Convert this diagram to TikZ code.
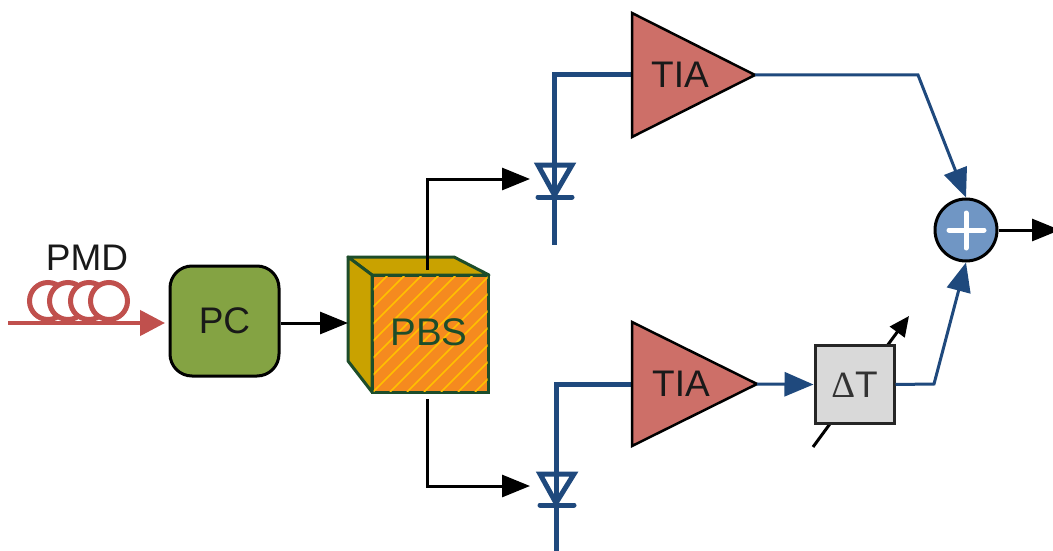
\documentclass[tikz,border=0pt]{standalone}
\usepackage{fontspec}
\setmainfont{Liberation Sans}
\usetikzlibrary{arrows.meta,calc}
\definecolor{bluel}{HTML}{1F497D}
\definecolor{redl}{HTML}{C0504D}
\definecolor{tiaf}{HTML}{CD6F68}
\definecolor{pcf}{HTML}{84A343}
\definecolor{cubeg}{HTML}{1D4D2A}
\definecolor{gold}{HTML}{C9A200}
\definecolor{orangef}{HTML}{F58A1F}
\definecolor{hatchy}{HTML}{FFC000}
\definecolor{sumf}{HTML}{7096C4}
\tikzset{
  x=1pt,y=-1pt,
  lab/.style={font=\fontsize{37}{37}\selectfont,inner sep=0pt,text=black!90},
  blk/.style={draw=black,line width=3pt,-{Triangle[length=28pt,width=22pt]}},
  blu/.style={draw=bluel,line width=3pt},
  bluar/.style={blu,-{Triangle[length=29pt,width=24pt]}},
  bluthick/.style={draw=bluel,line width=5pt},
  diode/.style={draw=bluel,line width=5pt,line cap=round,line join=miter},
  tia/.style={draw=black,line width=2.5pt,fill=tiaf,line join=miter},
  coil/.style={draw=redl,line width=5pt,fill=white},
}
\begin{document}
\begin{tikzpicture}
\useasboundingbox (0,0) rectangle (1053,551);
% anchors
\coordinate (fibreA) at (8,323);
\coordinate (fibreB) at (165,323);
\coordinate (topSplit) at (427,270);
\coordinate (botSplit) at (427,399);
\coordinate (pdTopIn) at (530,179);
\coordinate (pdBotIn) at (530,486);
\coordinate (tiaTopIn) at (632,75);
\coordinate (tiaTopOut) at (755,75);
\coordinate (tiaBotIn) at (632,384);
\coordinate (tiaBotOut) at (757,384);
\coordinate (cubeIn) at (348,323);
\coordinate (outEnd) at (1060,230);
\coordinate (tuneA) at (813,447);
\coordinate (tuneB) at (909,316);
% coil
\foreach \cx in {48,68,89,109}{\draw[coil] (\cx,301) circle (18.5);}
\draw[draw=redl,line width=4.5pt,-{Triangle[length=25pt,width=25pt]}] (fibreA) -- (fibreB);
\node[lab] (pmd) at (87,258) {PMD};
% PC
\node[draw=black,line width=3pt,fill=pcf,rounded corners=22pt,minimum width=109pt,minimum height=110pt,inner sep=0pt,font=\fontsize{37}{37}\selectfont,text=black!90] (pc) at (224.5,321) {PC};
% cube
\path[fill=gold,draw=cubeg,line width=3pt,line join=round] (372,275) -- (348,257) -- (454,257) -- (489,275) -- cycle;
\path[fill=gold,draw=cubeg,line width=3pt,line join=round] (372,275) -- (348,257) -- (348,361) -- (372,392) -- cycle;
\node[draw=cubeg,line width=3pt,fill=orangef,minimum width=116pt,minimum height=117pt,inner sep=0pt] (pbsbox) at (430.5,333.5) {};
\begin{scope}
\clip (373.5,276.5) rectangle (487.5,391);
\foreach \d in {-119,-102,...,136}{\draw[hatchy,line width=1.6pt] (356+\d,392) -- (356+\d+125,267);}
\end{scope}
\node[font=\fontsize{38.5}{38.5}\selectfont,text=cubeg,inner sep=0pt] (pbs) at (429,332) {PBS};
% black connectors
\draw[blk] (pc.east |- cubeIn) -- (cubeIn);
\draw[blk] (topSplit) |- (pdTopIn);
\draw[blk] (botSplit) |- (pdBotIn);
% photodiodes and feeds
\draw[bluthick,line join=miter] (tiaTopIn) -| (554.5,245);
\draw[bluthick,line join=miter] (tiaBotIn) -| (556,551);
\draw[diode] (538,165) -- (572,165) -- (554.5,195) -- cycle;
\draw[diode] (538,197) -- (572,197);
\draw[diode] (540,474) -- (574,474) -- (556,503) -- cycle;
\draw[diode] (540,505) -- (574,505);
% tune arrow (behind delay box)
\draw[draw=black,line width=3pt,-{Triangle[length=20pt,width=18pt]}] (tuneA) -- (tuneB);
% TIAs
\draw[tia] (632,13) -- (755,75) -- (632,137) -- cycle;
\node[lab] (tiat) at (680,75) {TIA};
\draw[tia] (632,322) -- (757,384) -- (632,446) -- cycle;
\node[lab] (tiab) at (681,384) {TIA};
% delay
\node[draw=black!85,line width=3pt,fill=black!15,minimum width=79pt,minimum height=78pt,inner sep=0pt,font=\fontsize{37}{37}\selectfont,text=black!80] (dt) at (854.5,384.5) {{\fontspec{Liberation Serif}Δ}T};
% sum
\node[circle,draw=black,line width=3pt,fill=sumf,minimum size=62pt,inner sep=0pt] (sum) at (966,230) {};
\draw[white,line width=5pt,line cap=round] (949,230) -- (984,230);
\draw[white,line width=5pt,line cap=round] (966,213) -- (966,248);
% outputs
\draw[bluar] (tiaTopOut) -- (918,75) -- (sum.north);
\draw[bluar] (tiaBotOut) -- (dt.west);
\draw[bluar] (dt.east) -- (934,384) -- (sum.south);
\draw[blk] (sum.east) -- (outEnd);
\end{tikzpicture}
\end{document}
